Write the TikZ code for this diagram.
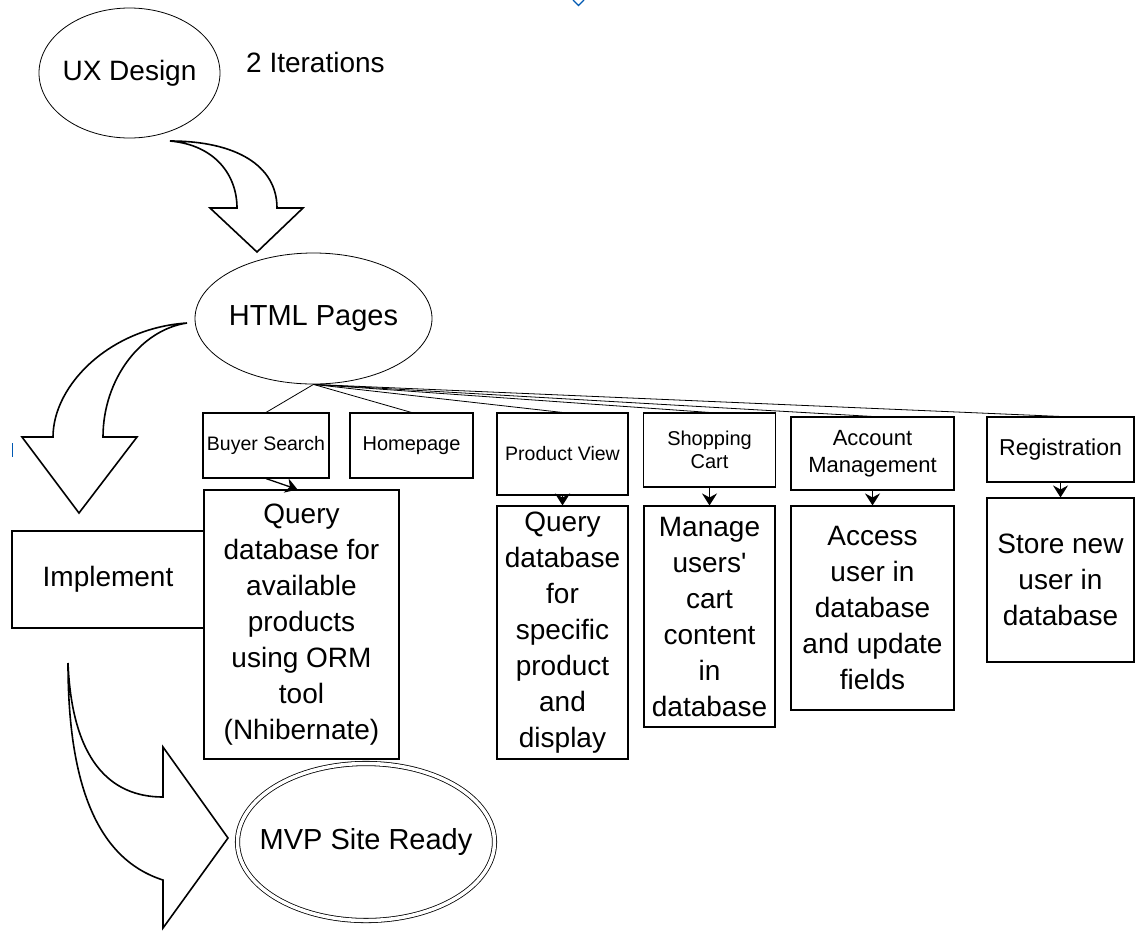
\documentclass[tikz,border=0pt]{standalone}
\usepackage{fontspec}
\setmainfont{Liberation Sans}
\newfontfamily\plainfont{Liberation Sans}
\usetikzlibrary{shapes.geometric,arrows.meta}
\newcommand{\fsz}[2]{\fontsize{#1}{#2}\selectfont}
\tikzset{
  box/.style={draw, line width=1.1pt, rectangle, inner sep=0pt, align=center},
  oval/.style={draw, ellipse, inner sep=0pt, line width=0.8pt, align=center},
  link/.style={line width=0.8pt},
  feed/.style={line width=1.3pt, -{Stealth[length=12pt,width=15pt,inset=4pt]}},
  bigarrow/.style={draw, line width=1.6pt, fill=white, line join=miter},
  edgetick/.style={draw=blue!50!cyan!70!black, line width=1.2pt}
}
\begin{document}
\begin{tikzpicture}[x=1pt, y=-1pt]
\useasboundingbox (0,0) rectangle (1139,930);

% ovals for the main stages
\node[oval, inner xsep=-5pt, minimum width=181pt, minimum height=130pt, font=\fsz{28}{34}] (ux) at (129.5,73) {UX Design};
\node[anchor=west, inner sep=0pt, font=\fsz{28}{34}] (iter) at (246,62) {2 Iterations};
\node[oval, inner xsep=-4pt, minimum width=237pt, minimum height=131pt, font=\fsz{29}{35}] (html) at (313.5,318.5) {HTML Pages};
\node[box, minimum width=192pt, minimum height=97pt, font=\fsz{28}{34}] (impl) at (108,579.5) {Implement};
\node[oval, inner xsep=-17pt, double, double distance=3.5pt, minimum width=257pt, minimum height=157pt, font=\fsz{29}{35}] (mvp) at (366,842) {MVP Site Ready};

% page boxes
\node[box, minimum width=126pt, minimum height=65pt, font=\fsz{19.5}{23}] (bs) at (266,445.5) {Buyer Search};
\node[box, minimum width=123pt, minimum height=65pt, font=\fsz{20}{23}] (hp) at (411.5,445.5) {Homepage};
\node[box, minimum width=131pt, minimum height=82pt, font=\fsz{19.5}{23}] (pv) at (562.5,454) {Product View};
\node[box, minimum width=132pt, minimum height=74pt, font=\fsz{20}{23}] (sc) at (709.5,450) {Shopping\\Cart};
\node[box, minimum width=163pt, minimum height=73pt, font=\fsz{22}{27}] (am) at (872.5,453.5) {Account\\Management};
\node[box, minimum width=147pt, minimum height=65pt, font=\fsz{23}{27}] (rg) at (1060.5,449.5) {Registration};

% database task boxes
\node[box, minimum width=195pt, minimum height=269pt, font=\fsz{28}{36}] (q1) at (301.5,624.5)
  {Query\\database for\\available\\products\\using ORM\\tool\\(Nhibernate)};
\node[box, minimum width=131pt, minimum height=253pt, font=\fsz{28}{36}] (q2) at (562.5,632.5)
  {Query\\database\\for\\specific\\product\\and\\display};
\node[box, minimum width=131pt, minimum height=221pt, font=\plainfont\fsz{28}{36}] (q3) at (709.5,616.5)
  {Manage\\users'\\cart\\content\\in\\database};
\node[box, minimum width=163pt, minimum height=204pt, font=\fsz{28}{36}] (q4) at (872.5,608)
  {Access\\user in\\database\\and update\\fields};
\node[box, minimum width=147pt, minimum height=164pt, font=\fsz{28}{36}] (q5) at (1060.5,580)
  {Store new\\user in\\database};

% fan-out from the HTML stage to the pages
\foreach \p in {bs,hp,pv,sc,am,rg}
  \draw[link] (html.south) -- (\p.north);

% page to task arrows
\draw[feed] (bs.south) -- ([xshift=-4pt]q1.north);
\draw[feed] (pv.south) -- (q2.north);
\draw[feed] (sc.south) -- (q3.north);
\draw[feed] (am.south) -- (q4.north);
\draw[feed] (rg.south) -- (q5.north);

% curved block arrows between stages
\path[bigarrow] (170,141) .. controls (235,141) and (277,165) .. (277,208)
  -- (303,208) -- (257,252) -- (210,208) -- (237,208)
  .. controls (237,175) and (215,145) .. (170,141) -- cycle;
\path[bigarrow] (187,323) .. controls (110,328) and (53,385) .. (53,437)
  -- (22,437) -- (79,513) -- (137,437) -- (103,437)
  .. controls (103,380) and (140,330) .. (187,323) -- cycle;
\path[bigarrow] (68,663) .. controls (68,790) and (100,860) .. (163,880)
  -- (163,928) -- (228,838) -- (163,747) -- (163,797)
  .. controls (110,797) and (72,760) .. (68,663) -- cycle;

% small marks at the edges
\draw[edgetick] (573,0) -- (578.5,5.5) -- (584,0);
\draw[edgetick] (12.5,443) -- (12.5,457);
\end{tikzpicture}
\end{document}
